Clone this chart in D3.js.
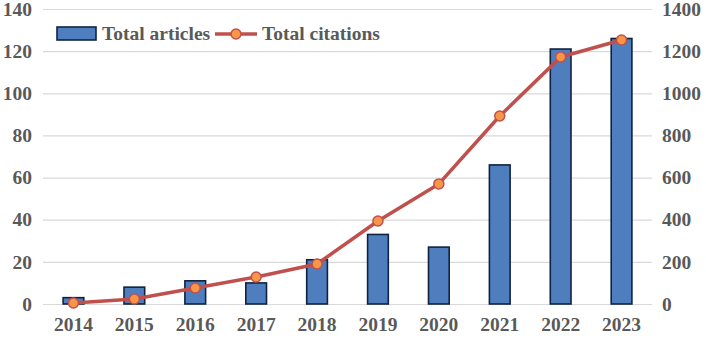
<!DOCTYPE html>
<html><head><meta charset="utf-8">
<script src="https://cdn.jsdelivr.net/npm/d3@7"></script>
<style>body{margin:0;background:#fff}svg{display:block}</style>
</head><body>
<script>
const years = ["2014","2015","2016","2017","2018","2019","2020","2021","2022","2023"];
const articles = [3, 8, 11, 10, 21, 33, 27, 66, 121, 126];
const citations = [5, 24, 76, 128, 190, 394, 570, 892, 1172, 1253];
const leftTicks = [0, 20, 40, 60, 80, 100, 120, 140];
const rightTicks = [0, 200, 400, 600, 800, 1000, 1200, 1400];

const W = 706, H = 338;
const m = {left: 43, right: 54, top: 9, bottom: 34};
const svg = d3.select("body").append("svg").attr("width", W).attr("height", H);
const font = "'Liberation Serif','Times New Roman',serif";
const txt = "#595959";
const fs = 19.5;

const x = d3.scaleBand().domain(years).range([m.left, W - m.right]).paddingInner(0.66).paddingOuter(0.33);
const yL = d3.scaleLinear().domain([0, 140]).range([H - m.bottom, m.top]);
const yR = d3.scaleLinear().domain([0, 1400]).range([H - m.bottom, m.top]);

// gridlines
svg.append("g").selectAll("line").data(leftTicks).join("line")
  .attr("x1", m.left).attr("x2", W - m.right)
  .attr("y1", d => yL(d) + 0.5).attr("y2", d => yL(d) + 0.5)
  .attr("stroke", "#d9d9d9").attr("stroke-width", 1.2);

// left axis
const gl = svg.append("g").attr("transform", `translate(${m.left - 11},0)`)
  .call(d3.axisLeft(yL).tickValues(leftTicks).tickFormat(d3.format("d")).tickSize(0).tickPadding(0));
gl.select(".domain").remove();
gl.selectAll("text").attr("font-family", font).attr("font-weight", "bold").attr("font-size", fs).attr("fill", txt);

// right axis
const gr = svg.append("g").attr("transform", `translate(${W - m.right + 10},0)`)
  .call(d3.axisRight(yR).tickValues(rightTicks).tickFormat(d3.format("d")).tickSize(0).tickPadding(0));
gr.select(".domain").remove();
gr.selectAll("text").attr("font-family", font).attr("font-weight", "bold").attr("font-size", fs).attr("fill", txt);

// bottom axis
const gb = svg.append("g").attr("transform", `translate(0,${H - m.bottom})`)
  .call(d3.axisBottom(x).tickSize(0).tickPadding(13));
gb.select(".domain").remove();
gb.selectAll("text").attr("font-family", font).attr("font-weight", "bold").attr("font-size", fs).attr("fill", txt);

// bars
svg.append("g").selectAll("rect").data(years).join("rect")
  .attr("x", d => x(d)).attr("width", x.bandwidth())
  .attr("y", (d, i) => yL(articles[i])).attr("height", (d, i) => yL(0) - yL(articles[i]))
  .attr("fill", "#4f7ebe").attr("stroke", "#0f2340").attr("stroke-width", 1.6);

// line
const cx = d => x(d) + x.bandwidth() / 2;
const line = d3.line().x((d, i) => cx(years[i])).y(d => yR(d));
svg.append("path").datum(citations).attr("d", line)
  .attr("fill", "none").attr("stroke", "#c0504d").attr("stroke-width", 3.5).attr("stroke-linejoin", "round");
svg.append("g").selectAll("circle").data(citations).join("circle")
  .attr("cx", (d, i) => cx(years[i])).attr("cy", d => yR(d)).attr("r", 5)
  .attr("fill", "#f79646").attr("stroke", "#c0504d").attr("stroke-width", 1.5);

// legend
const lg = svg.append("g");
lg.append("rect").attr("x", 57).attr("y", 27).attr("width", 39).attr("height", 13)
  .attr("fill", "#4f7ebe").attr("stroke", "#0f2340").attr("stroke-width", 1.6);
lg.append("text").attr("x", 102).attr("y", 40).text("Total articles")
  .attr("font-family", font).attr("font-weight", "bold").attr("font-size", fs).attr("fill", txt);
lg.append("line").attr("x1", 215).attr("x2", 257).attr("y1", 34).attr("y2", 34)
  .attr("stroke", "#c0504d").attr("stroke-width", 3.5);
lg.append("circle").attr("cx", 236).attr("cy", 34).attr("r", 5)
  .attr("fill", "#f79646").attr("stroke", "#c0504d").attr("stroke-width", 1.5);
lg.append("text").attr("x", 262).attr("y", 40).text("Total citations")
  .attr("font-family", font).attr("font-weight", "bold").attr("font-size", fs).attr("fill", txt);
</script>
</body></html>
